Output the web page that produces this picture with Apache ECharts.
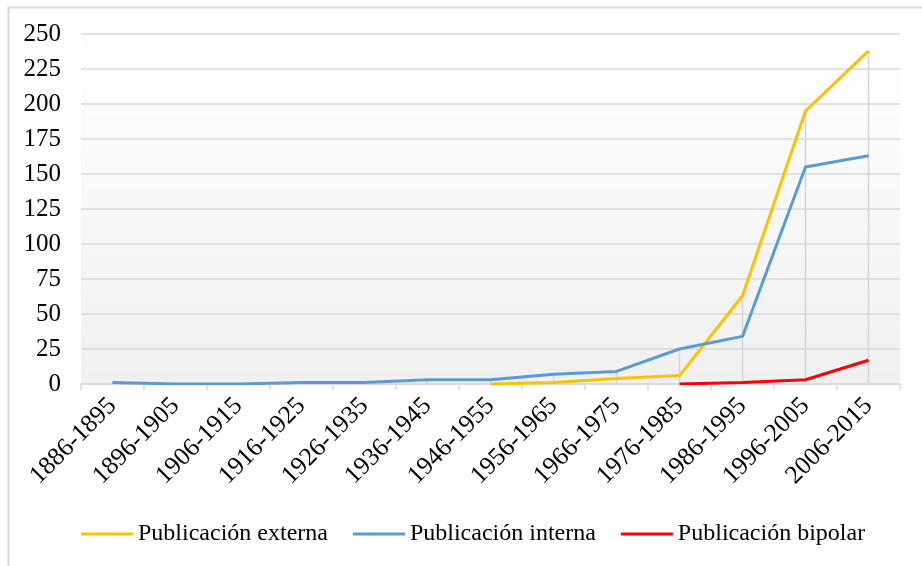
<!DOCTYPE html>
<html>
<head>
<meta charset="utf-8">
<script src="https://cdn.jsdelivr.net/npm/echarts@6/dist/echarts.min.js"></script>
<style>
html,body{margin:0;padding:0;background:#fff;}
#chart{width:922px;height:566px;}
</style>
</head>
<body>
<div id="chart"></div>
<script>
const categories = ["1886-1895","1896-1905","1906-1915","1916-1925","1926-1935","1936-1945","1946-1955","1956-1965","1966-1975","1976-1985","1986-1995","1996-2005","2006-2015"];
const externa = [null,null,null,null,null,null,0,1,4,6,63,195,238];
const interna = [1,0,0,1,1,3,3,7,9,25,34,155,163];
const bipolar = [null,null,null,null,null,null,null,null,null,0,1,3,17];
const yTicks = [0,25,50,75,100,125,150,175,200,225,250];

const dropLines = categories.map((c,i)=>Math.max(...[externa[i],interna[i],bipolar[i]].filter(v=>v!==null)));

const font = '"Liberation Serif","Times New Roman",serif';
const chart = echarts.init(document.getElementById('chart'), null, {renderer:'canvas'});
chart.setOption({
  animation:false,
  backgroundColor:'#fff',
  graphic:[{type:'rect',left:6,top:5,shape:{width:940,height:600},style:{fill:'none',stroke:'#d9d9d9',lineWidth:2},silent:true}],
  grid:{left:81,right:22,top:34,bottom:182,show:true,borderWidth:0,
    backgroundColor:{type:'linear',x:0,y:0,x2:0,y2:1,colorStops:[{offset:0,color:'#ffffff'},{offset:1,color:'#f0f0f0'}]}},
  legend:{
    top:522,left:81,padding:0,itemWidth:52,itemHeight:3,itemGap:25,icon:'rect',
    data:['Publicación externa','Publicación interna','Publicación bipolar'],
    textStyle:{fontFamily:font,fontSize:24,color:'#000'}
  },
  xAxis:{
    type:'category',data:categories,boundaryGap:true,
    axisLine:{lineStyle:{color:'#d9d9d9',width:1.5}},
    axisTick:{show:true,length:6,lineStyle:{color:'#d9d9d9',width:1.5}},
    axisLabel:{rotate:45,margin:18,fontFamily:font,fontSize:25.5,color:'#000',interval:0}
  },
  yAxis:{
    type:'value',min:yTicks[0],max:yTicks[yTicks.length-1],interval:25,
    axisLine:{show:false},axisTick:{show:false},
    splitLine:{lineStyle:{color:'#d9d9d9',width:1.5}},
    axisLabel:{margin:20,fontFamily:font,fontSize:25,color:'#000'}
  },
  series:[
    {type:'bar',data:dropLines,barWidth:1.5,itemStyle:{color:'#d4d4d4'},silent:true,z:1},
    {name:'Publicación externa',type:'line',data:externa,showSymbol:false,symbol:'none',lineStyle:{color:'#FFC000',width:3},itemStyle:{color:'#FFC000'},z:3},
    {name:'Publicación interna',type:'line',data:interna,showSymbol:false,symbol:'none',lineStyle:{color:'#5B9BD5',width:3},itemStyle:{color:'#5B9BD5'},z:3},
    {name:'Publicación bipolar',type:'line',data:bipolar,showSymbol:false,symbol:'none',lineStyle:{color:'#FF0000',width:3},itemStyle:{color:'#FF0000'},z:4}
  ]
});
</script>
</body>
</html>
